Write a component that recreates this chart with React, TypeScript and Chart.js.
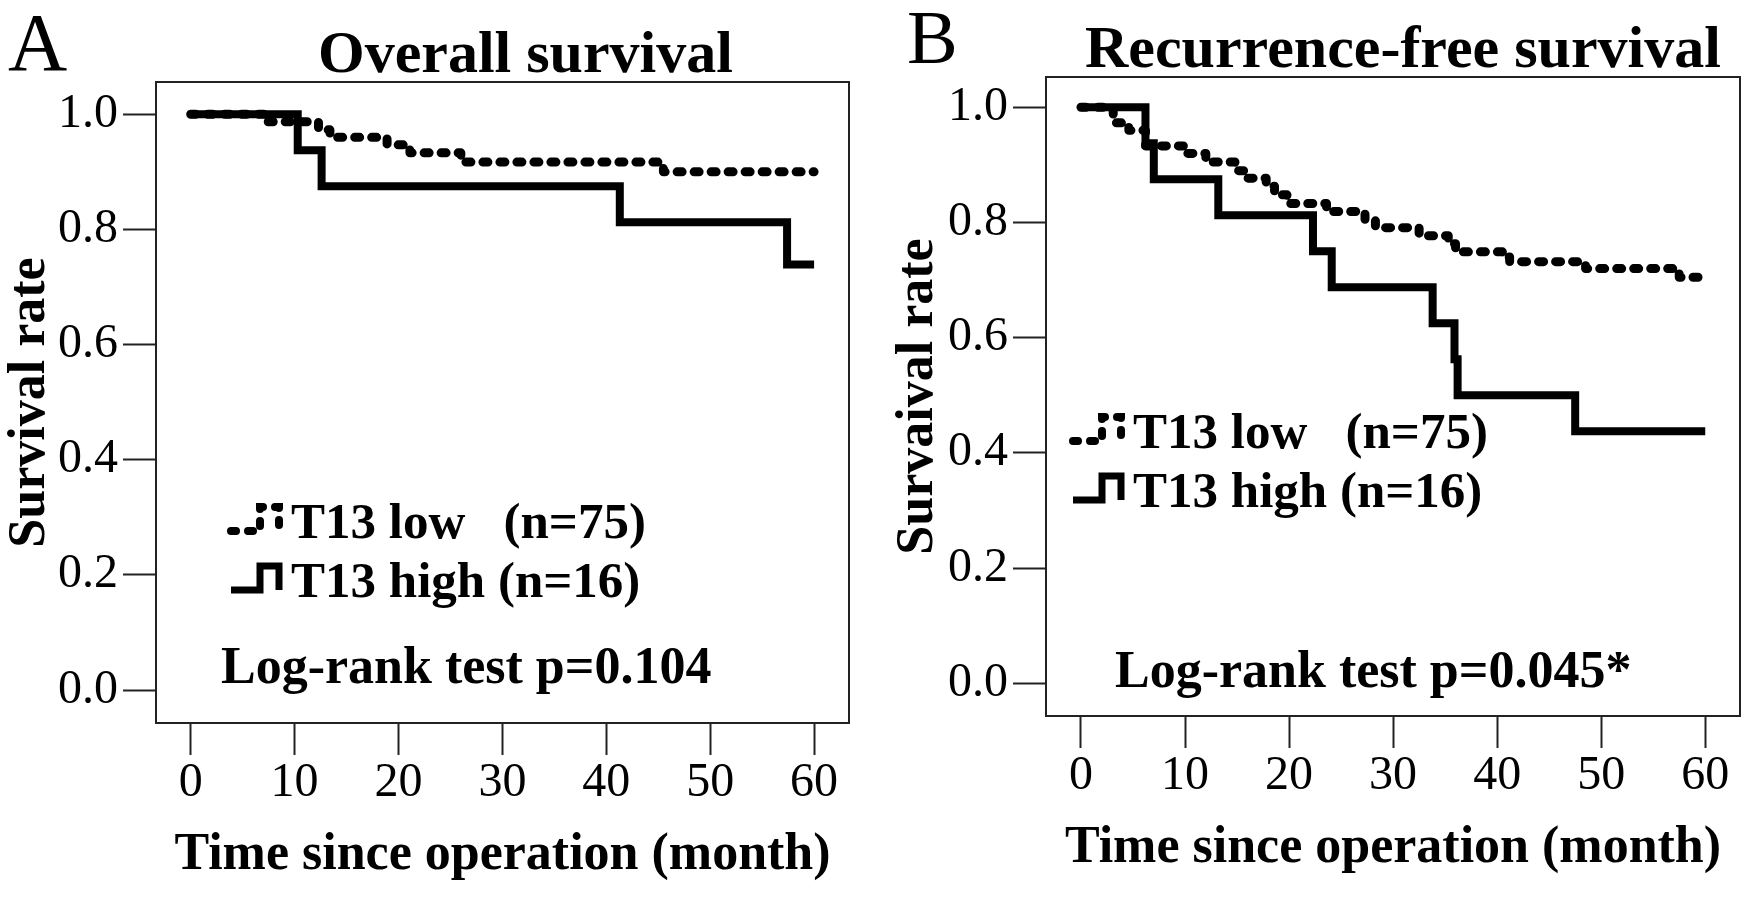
import React, { useEffect, useRef } from 'react';
import Chart from 'chart.js/auto';

const SERIF = '"Liberation Serif", "Times New Roman", serif';

// axis ticks
const monthTicks = [0, 10, 20, 30, 40, 50, 60];
const rateTicks = [0, 0.2, 0.4, 0.6, 0.8, 1.0];

// A - overall survival (Kaplan-Meier steps)
const osLowMonths = [0, 7.3, 12.3, 13.4, 18.9, 21.1, 26.0, 45.5, 60];
const osLowSurvival = [1, 0.987, 0.973, 0.96, 0.947, 0.933, 0.917, 0.9, 0.9];
const osHighMonths = [0, 10.3, 12.6, 41.3, 57.4, 60];
const osHighSurvival = [1, 0.9375, 0.875, 0.8125, 0.739, 0.739];

// B - recurrence-free survival
const rfsLowMonths = [0, 3.1, 4.6, 6.2, 10.0, 12.0, 14.8, 15.8, 17.8, 18.6, 19.8, 23.6, 27.3, 28.3, 32.5, 35.3, 36.0, 40.5, 41.2, 48.5, 57.5, 60];
const rfsLowSurvival = [1, 0.973, 0.96, 0.933, 0.92, 0.905, 0.89, 0.877, 0.863, 0.848, 0.833, 0.819, 0.805, 0.791, 0.777, 0.763, 0.749, 0.74, 0.732, 0.72, 0.705, 0.705];
const rfsHighMonths = [0, 6.2, 7.0, 13.2, 22.3, 24.1, 33.8, 35.9, 36.2, 47.5, 60];
const rfsHighSurvival = [1, 0.9375, 0.875, 0.8125, 0.75, 0.6875, 0.625, 0.5625, 0.5, 0.4375, 0.4375];

const legendLow = 'T13 low   (n=75)';
const legendHigh = 'T13 high (n=16)';

interface PanelProps {
    left: number;
    letter: string;
    letterSize: number;
    letterX: number;
    letterY: number;
    title: string;
    titleX: number;
    titleY: number;
    yTitle: string;
    yTitlePad: number;
    xTitlePad: number;
    lowMonths: number[];
    lowSurvival: number[];
    highMonths: number[];
    highSurvival: number[];
    pText: string;
    pX: number;
    pY: number;
    legendX: number;
    legendY: number; // baseline of first row
    // frame / scale geometry
    top: number;
    right: number;
    yWidth: number;
    xHeight: number;
    xMin: number;
    xMax: number;
    yMin: number;
    yMax: number;
}

const W = 876;
const H = 897;

const drawIcon = (ctx: CanvasRenderingContext2D, x: number, baseline: number, dashed: boolean) => {
    const x0 = x - 60, x1 = x - 31, x2 = x - 12;
    const top = baseline - 31, bottom = baseline - 7;
    ctx.beginPath();
    ctx.moveTo(x0, bottom);
    ctx.lineTo(x1, bottom);
    ctx.lineTo(x1, top);
    ctx.lineTo(x2, top);
    ctx.lineTo(x2, bottom);
    ctx.lineWidth = dashed ? 8 : 7;
    ctx.strokeStyle = '#000';
    ctx.setLineDash(dashed ? [5, 12] : []);
    ctx.lineCap = dashed ? 'round' : 'butt';
    ctx.lineJoin = 'miter';
    ctx.stroke();
    ctx.setLineDash([]);
};

const KMPanel: React.FC<PanelProps> = (p) => {
    const canvasRef = useRef<HTMLCanvasElement | null>(null);

    useEffect(() => {
        const ctx = canvasRef.current?.getContext('2d');
        if (!ctx) {
            return;
        }

        const panelText = {
            id: 'panelText',
            afterDraw(chart: Chart) {
                const c = chart.ctx;
                const area = chart.chartArea;
                c.save();
                // frame round the plot area
                c.strokeStyle = '#222';
                c.lineWidth = 2;
                c.strokeRect(area.left, area.top, area.right - area.left, area.bottom - area.top);

                c.fillStyle = '#000';
                c.textAlign = 'left';
                c.textBaseline = 'alphabetic';
                c.font = `${p.letterSize}px ${SERIF}`;
                c.fillText(p.letter, p.letterX, p.letterY);
                c.font = `bold 60px ${SERIF}`;
                c.fillText(p.title, p.titleX, p.titleY);

                // legend
                c.font = `bold 51px ${SERIF}`;
                c.fillText(legendLow, p.legendX, p.legendY);
                c.fillText(legendHigh, p.legendX, p.legendY + 59);
                drawIcon(c, p.legendX, p.legendY, true);
                drawIcon(c, p.legendX, p.legendY + 59, false);

                c.fillStyle = '#000';
                c.font = `bold 52px ${SERIF}`;
                c.fillText(p.pText, p.pX, p.pY);
                c.restore();
            },
        };

        const myChart = new Chart(ctx, {
            type: 'line',
            data: {
                datasets: [
                    {
                        label: 'T13 high',
                        data: p.highMonths.map((m, i) => ({ x: m, y: p.highSurvival[i] })),
                        borderColor: '#000',
                        borderWidth: 8,
                        stepped: true,
                        pointRadius: 0,
                        borderCapStyle: 'butt',
                        borderJoinStyle: 'miter',
                        fill: false,
                    },
                    {
                        label: 'T13 low',
                        data: p.lowMonths.map((m, i) => ({ x: m, y: p.lowSurvival[i] })),
                        borderColor: '#000',
                        borderWidth: 9,
                        borderDash: [5, 12],
                        borderCapStyle: 'round',
                        borderJoinStyle: 'round',
                        stepped: true,
                        pointRadius: 0,
                        fill: false,
                    },
                ],
            },
            options: {
                animation: false,
                responsive: false,
                devicePixelRatio: 1,
                layout: {
                    padding: { left: 0, top: p.top, right: W - p.right, bottom: 0 },
                },
                plugins: {
                    legend: { display: false },
                    title: { display: false },
                    tooltip: { enabled: false },
                },
                scales: {
                    x: {
                        type: 'linear',
                        min: p.xMin,
                        max: p.xMax,
                        afterBuildTicks: (scale: any) => {
                            scale.ticks = monthTicks.map((v) => ({ value: v }));
                        },
                        afterFit: (scale: any) => {
                            scale.height = p.xHeight;
                        },
                        border: { display: false },
                        grid: {
                            display: true,
                            drawOnChartArea: false,
                            drawTicks: true,
                            tickLength: 32,
                            tickWidth: 2,
                            tickColor: '#222',
                        },
                        ticks: {
                            color: '#000',
                            padding: 0,
                            maxRotation: 0,
                            font: { family: SERIF, size: 48 },
                            callback: (v: any) => String(v),
                        },
                        title: {
                            display: true,
                            text: 'Time since operation (month)',
                            color: '#000',
                            font: { family: SERIF, size: 52, weight: 'bold', lineHeight: 1 },
                            padding: { top: 0, bottom: p.xTitlePad },
                        },
                    },
                    y: {
                        type: 'linear',
                        min: p.yMin,
                        max: p.yMax,
                        afterBuildTicks: (scale: any) => {
                            scale.ticks = rateTicks.map((v) => ({ value: v }));
                        },
                        afterFit: (scale: any) => {
                            scale.width = p.yWidth;
                        },
                        border: { display: false },
                        grid: {
                            display: true,
                            drawOnChartArea: false,
                            drawTicks: true,
                            tickLength: 33,
                            tickWidth: 2,
                            tickColor: '#222',
                        },
                        ticks: {
                            color: '#000',
                            padding: 5,
                            font: { family: SERIF, size: 48 },
                            callback: (v: any) => Number(v).toFixed(1),
                        },
                        title: {
                            display: true,
                            text: p.yTitle,
                            color: '#000',
                            font: { family: SERIF, size: 52, weight: 'bold', lineHeight: 1 },
                            padding: { top: p.yTitlePad, bottom: 0 },
                        },
                    },
                },
            },
            plugins: [panelText],
        });

        return () => {
            myChart.destroy();
        };
    }, []);

    return (
        <canvas
            ref={canvasRef}
            width={W}
            height={H}
            style={{ position: 'absolute', left: p.left, top: 0, width: W, height: H, display: 'block' }}
        />
    );
};

const App: React.FC = () => {
    return (
        <div style={{ position: 'absolute', left: 0, top: 0, width: 1752, height: 897, background: '#fff', overflow: 'hidden' }}>
            <KMPanel
                left={0}
                letter="A"
                letterSize={82}
                letterX={8}
                letterY={70}
                title="Overall survival"
                titleX={318}
                titleY={72}
                yTitle="Survival rate"
                yTitlePad={5}
                xTitlePad={15}
                lowMonths={osLowMonths}
                lowSurvival={osLowSurvival}
                highMonths={osHighMonths}
                highSurvival={osHighSurvival}
                pText="Log-rank test p=0.104"
                pX={221}
                pY={683}
                legendX={291}
                legendY={538}
                top={82}
                right={849}
                yWidth={156}
                xHeight={174}
                xMin={-3.34}
                xMax={63.36}
                yMin={-0.0573}
                yMax={1.0561}
            />
            <KMPanel
                left={876}
                letter="B"
                letterSize={76}
                letterX={31}
                letterY={63}
                title="Recurrence-free survival"
                titleX={209}
                titleY={67}
                yTitle="Survaival rate"
                yTitlePad={17}
                xTitlePad={22}
                lowMonths={rfsLowMonths}
                lowSurvival={rfsLowSurvival}
                highMonths={rfsHighMonths}
                highSurvival={rfsHighSurvival}
                pText="Log-rank test p=0.045*"
                pX={239}
                pY={687}
                legendX={257}
                legendY={448}
                top={77}
                right={864}
                yWidth={170}
                xHeight={181}
                xMin={-3.36}
                xMax={63.34}
                yMin={-0.0568}
                yMax={1.0526}
            />
        </div>
    );
};

export default App;
